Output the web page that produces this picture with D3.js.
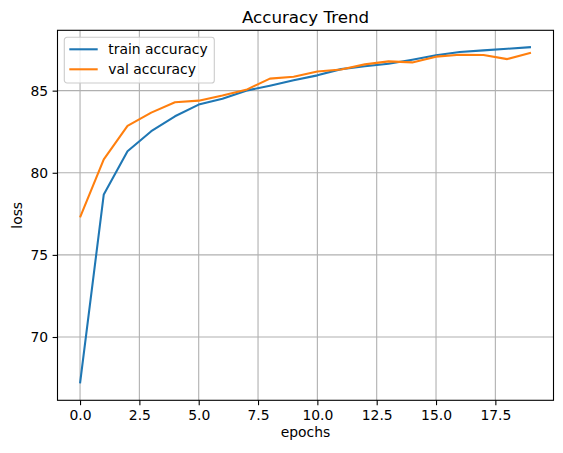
<!DOCTYPE html>
<html>
<head>
<meta charset="utf-8">
<script src="https://cdn.jsdelivr.net/npm/d3@7"></script>
<style>
	body { margin: 0; background: #fff; }
	text { font-family: "DejaVu Sans", sans-serif; fill: #000; }
	.axis text { font-size: 13.9px; }
	.axis path, .axis line { stroke: #000; stroke-width: 1.1px; }
	.grid line { stroke: #b0b0b0; stroke-width: 1.1px; }
</style>
</head>
<body>
<div id="chart"></div>
<script>
const epochs = d3.range(20);
const train_acc = [67.17, 78.68, 81.31, 82.53, 83.44, 84.15, 84.51, 85.0, 85.30, 85.63,
	85.93, 86.31, 86.48, 86.64, 86.88, 87.15, 87.35, 87.45, 87.55, 87.65];
const val_acc = [77.28, 80.81, 82.85, 83.66, 84.29, 84.39, 84.70, 85.05, 85.73, 85.85,
	86.17, 86.29, 86.60, 86.78, 86.72, 87.07, 87.19, 87.17, 86.92, 87.31];
const x_ticks = [0, 2.5, 5, 7.5, 10, 12.5, 15, 17.5];
const y_ticks = [70, 75, 80, 85];
const series = [
	{name: "train accuracy", values: train_acc, color: "#1f77b4"},
	{name: "val accuracy", values: val_acc, color: "#ff7f0e"}
];

const width = 563, height = 453;
const m_left = 57.5, m_top = 30.3, plot_w = 496, plot_h = 370;

let svg = d3.select("#chart").append("svg").attr("width", width).attr("height", height);

// matplotlib style 5% margins
let xpad = (d3.max(epochs) - d3.min(epochs)) * 0.05;
let x = d3.scaleLinear().domain([d3.min(epochs) - xpad, d3.max(epochs) + xpad]).range([m_left, m_left + plot_w]);
let all = train_acc.concat(val_acc);
let ypad = (d3.max(all) - d3.min(all)) * 0.05;
let y = d3.scaleLinear().domain([d3.min(all) - ypad, d3.max(all) + ypad]).range([m_top + plot_h, m_top]);

// grid
let grid = svg.append("g").attr("class", "grid");
grid.selectAll(".gx").data(x_ticks).enter().append("line")
	.attr("x1", d => x(d)).attr("x2", d => x(d))
	.attr("y1", m_top).attr("y2", m_top + plot_h);
grid.selectAll(".gy").data(y_ticks).enter().append("line")
	.attr("x1", m_left).attr("x2", m_left + plot_w)
	.attr("y1", d => y(d)).attr("y2", d => y(d));

// lines
let line = d3.line().x((d, i) => x(epochs[i])).y(d => y(d));
svg.selectAll(".series").data(series).enter().append("path")
	.attr("fill", "none")
	.attr("stroke", d => d.color)
	.attr("stroke-width", 2.08)
	.attr("stroke-linejoin", "round")
	.attr("d", d => line(d.values));

// axes
svg.append("g").attr("class", "axis")
	.attr("transform", `translate(0,${m_top + plot_h})`)
	.call(d3.axisBottom(x).tickValues(x_ticks).tickFormat(d3.format(".1f")).tickSize(4.9).tickPadding(4.5).tickSizeOuter(0))
	.call(g => g.select(".domain").remove());
svg.append("g").attr("class", "axis")
	.attr("transform", `translate(${m_left},0)`)
	.call(d3.axisLeft(y).tickValues(y_ticks).tickFormat(d3.format("d")).tickSize(4.9).tickPadding(4.5).tickSizeOuter(0))
	.call(g => g.select(".domain").remove());
svg.selectAll(".axis text").attr("font-family", "DejaVu Sans");

// frame
svg.append("rect").attr("x", m_left).attr("y", m_top).attr("width", plot_w).attr("height", plot_h)
	.attr("fill", "none").attr("stroke", "#000").attr("stroke-width", 1.1);

// title and labels
svg.append("text").attr("x", m_left + plot_w / 2).attr("y", 22.5)
	.attr("text-anchor", "middle").style("font-size", "16.7px").text("Accuracy Trend");
svg.append("text").attr("x", m_left + plot_w / 2).attr("y", 437)
	.attr("text-anchor", "middle").style("font-size", "13.9px").text("epochs");
svg.append("text").attr("transform", `translate(22,${m_top + plot_h / 2}) rotate(-90)`)
	.attr("text-anchor", "middle").style("font-size", "13.9px").text("loss");

// legend
let legend = svg.append("g").attr("transform", "translate(64.3,37.3)");
legend.append("rect").attr("width", 150).attr("height", 45.7).attr("rx", 2.8)
	.attr("fill", "#fff").attr("fill-opacity", 0.8).attr("stroke", "#cccccc").attr("stroke-width", 1.1);
let items = legend.selectAll(".item").data(series).enter().append("g")
	.attr("transform", (d, i) => `translate(0,${12 + i * 20})`);
items.append("line").attr("x1", 5).attr("x2", 33.4)
	.attr("stroke", d => d.color).attr("stroke-width", 2.08);
items.append("text").attr("x", 44).attr("dy", "0.36em").style("font-size", "13.9px").text(d => d.name);
</script>
</body>
</html>
